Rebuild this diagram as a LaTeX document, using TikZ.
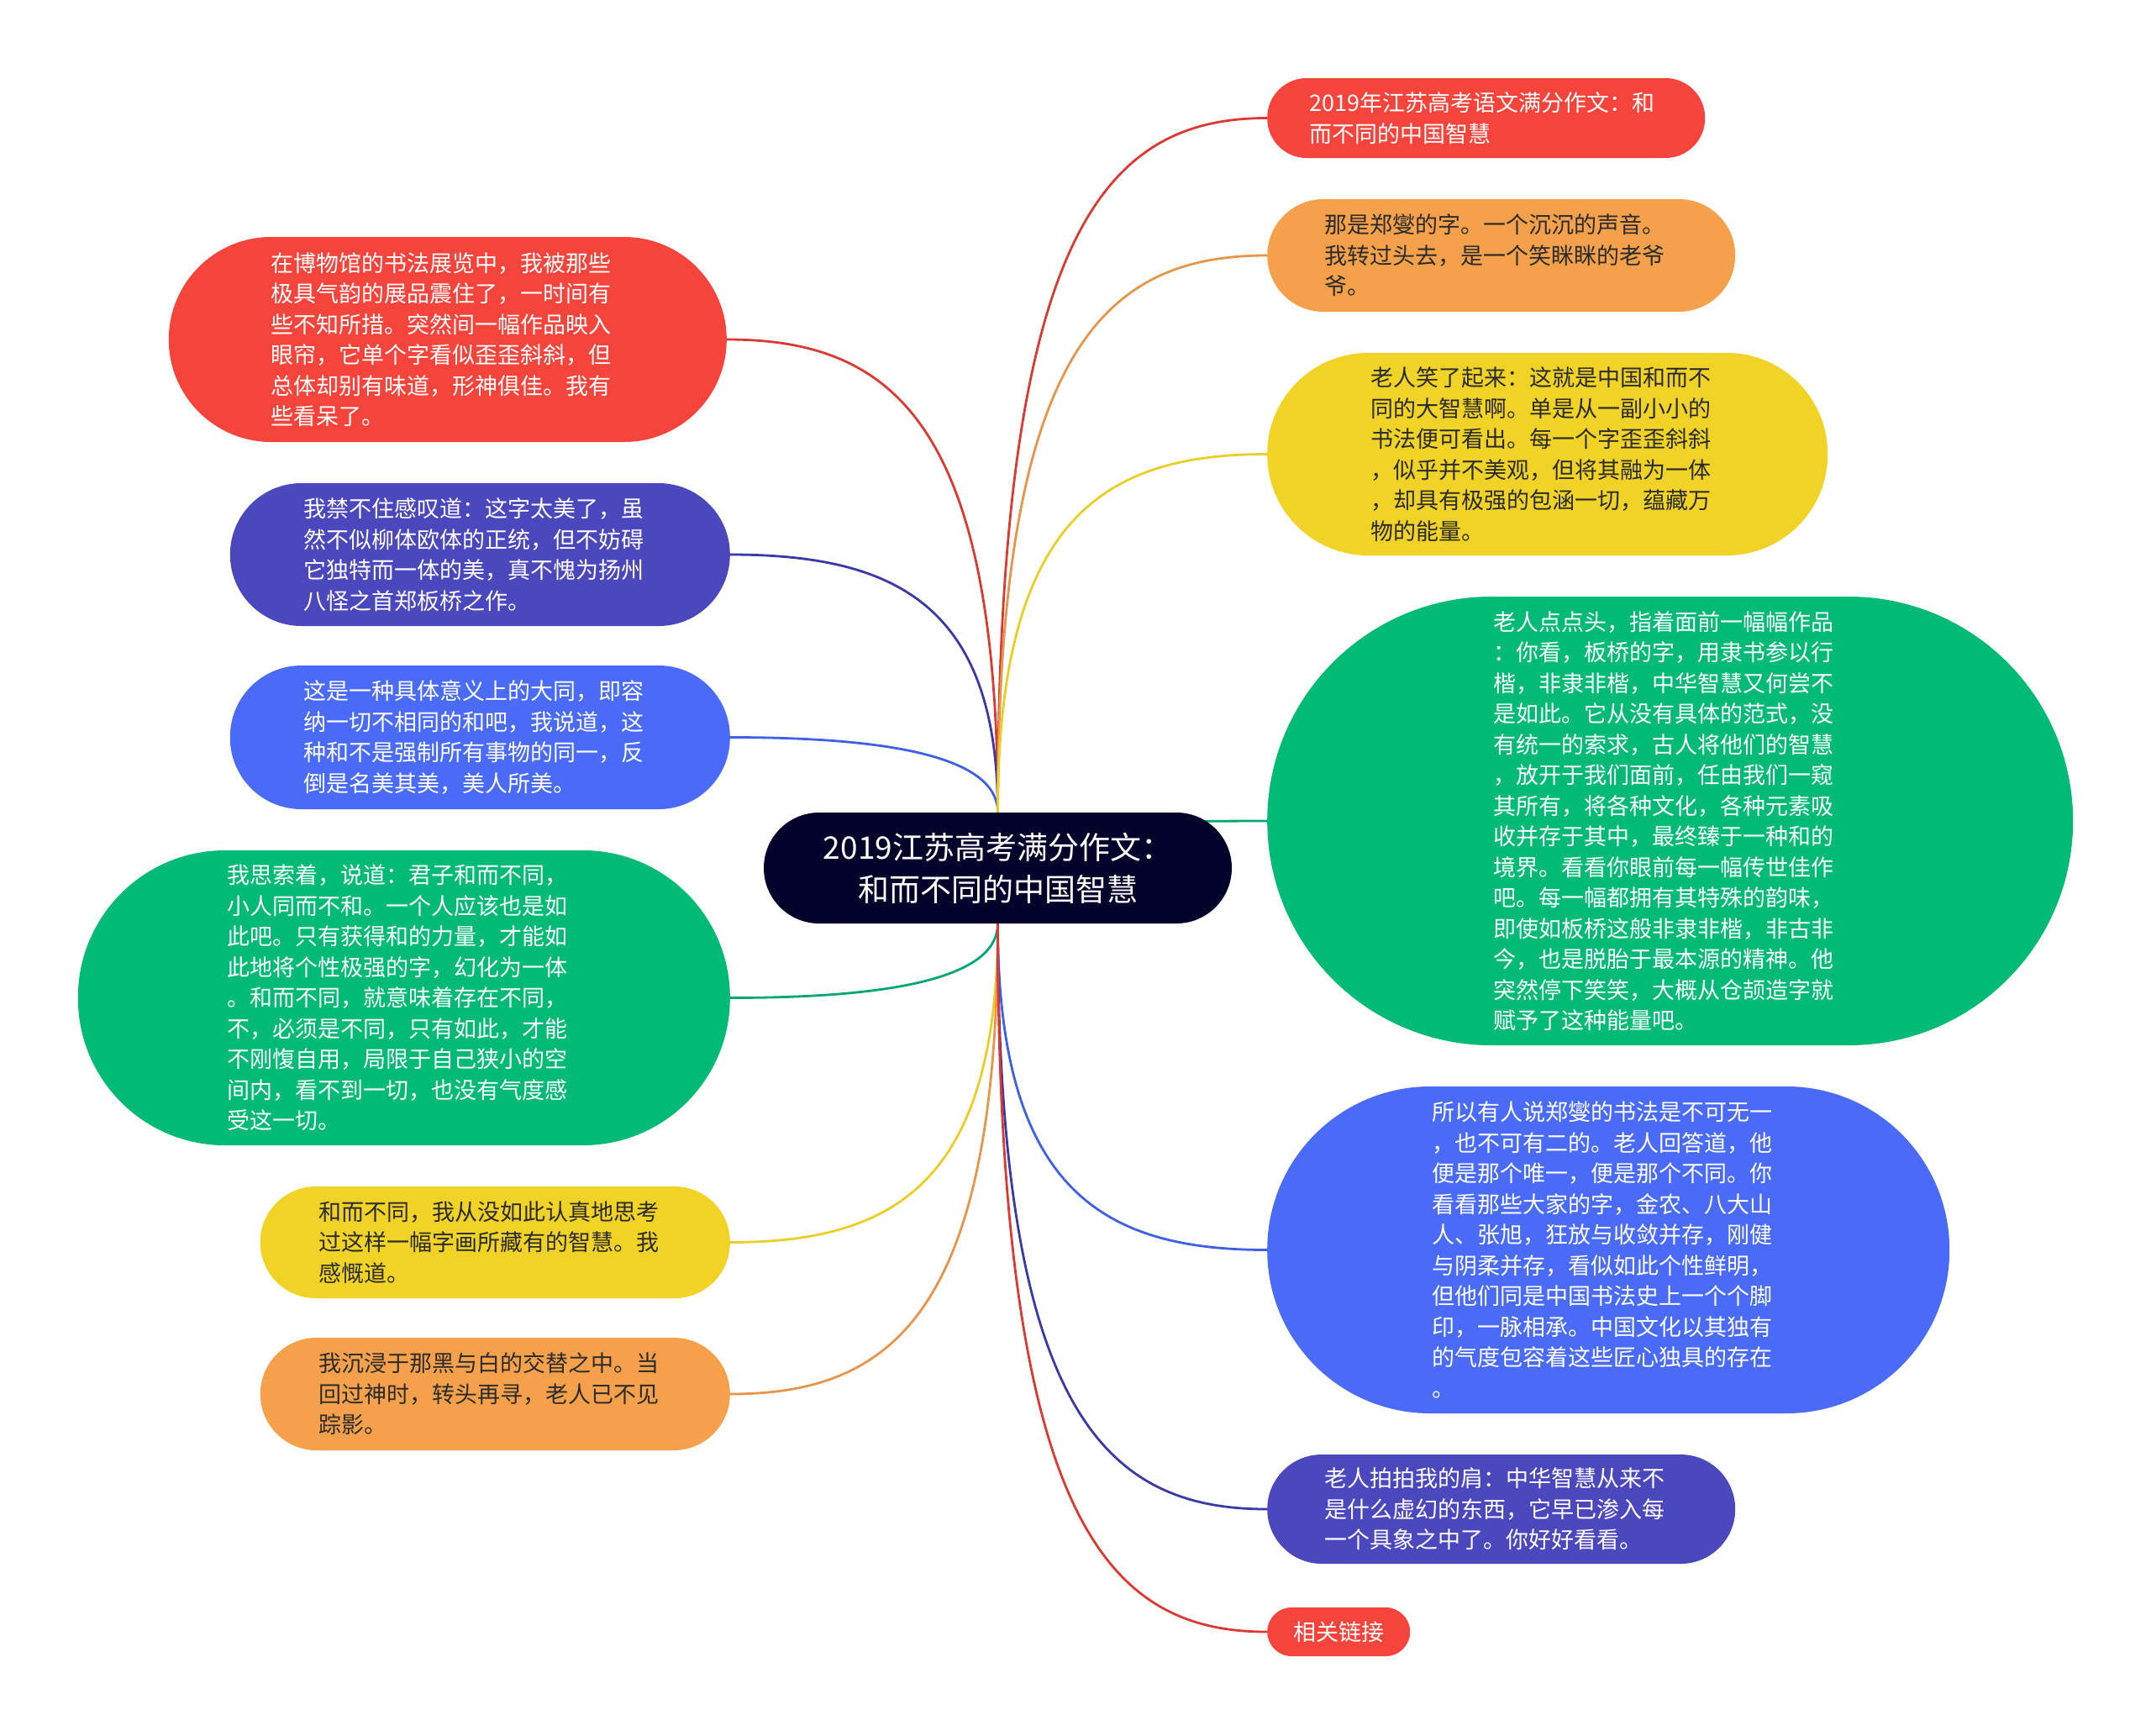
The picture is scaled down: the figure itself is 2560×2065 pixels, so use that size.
\documentclass[tikz,border=0pt]{standalone}
\usepackage{fontspec}
\setmainfont{Noto Sans CJK SC}
\usetikzlibrary{calc,backgrounds}
\pgfdeclarelayer{bottom}
\pgfsetlayers{bottom,background,main}
\definecolor{fRed}{HTML}{F5443C}
\definecolor{lRed}{HTML}{D93A32}
\definecolor{fOrange}{HTML}{F5A14B}
\definecolor{lOrange}{HTML}{E5954C}
\definecolor{fYellow}{HTML}{F0D326}
\definecolor{lYellow}{HTML}{E9CE2A}
\definecolor{fGreen}{HTML}{00BA75}
\definecolor{lGreen}{HTML}{00A86E}
\definecolor{fBlue}{HTML}{4A6BF8}
\definecolor{lBlue}{HTML}{3F60E6}
\definecolor{fPurple}{HTML}{4B48BD}
\definecolor{lPurple}{HTML}{3B39A6}
\definecolor{fNavy}{HTML}{02022A}
\definecolor{txtDark}{HTML}{2B2B2B}
\newcommand{\mmconn}[3]{\draw[conn,#1] (#2) .. controls ($(#2)!0.85!(#2|-#3)$) and ($(#3)!0.6!(#2|-#3)$) .. (#3);}
\tikzset{
  bubble/.style={inner sep=0pt, align=left, font=\fontsize{27pt}{36.5pt}\selectfont},
  para/.style={bubble, text width=420pt},
  conn/.style={line width=2.8pt}
}
\begin{document}
\begin{tikzpicture}[x=1pt,y=-1pt]
\useasboundingbox (0,0) rectangle (2560,2065);
\begin{pgfonlayer}{bottom}
\fill[white] (0,0) rectangle (2560,2065);
\end{pgfonlayer}

% center
\node[bubble, fill=fNavy, text=white, minimum width=557pt, minimum height=132pt, rounded corners=66pt, align=center, font=\fontsize{37pt}{50pt}\selectfont] (C) at (1187.5,1033) {2019江苏高考满分作文：\\和而不同的中国智慧};

% left nodes
\node[para, anchor=east, fill=fRed, text=white, minimum width=664pt, minimum height=244pt, rounded corners=122pt] (L1) at (865,404) {在博物馆的书法展览中，我被那些\\极具气韵的展品震住了，一时间有\\些不知所措。突然间一幅作品映入\\眼帘，它单个字看似歪歪斜斜，但\\总体却别有味道，形神俱佳。我有\\些看呆了。};
\node[para, anchor=east, fill=fPurple, text=white, minimum width=595pt, minimum height=170pt, rounded corners=85pt] (L2) at (869,660) {我禁不住感叹道：这字太美了，虽\\然不似柳体欧体的正统，但不妨碍\\它独特而一体的美，真不愧为扬州\\八怪之首郑板桥之作。};
\node[para, anchor=east, fill=fBlue, text=white, minimum width=595pt, minimum height=171pt, rounded corners=85pt] (L3) at (869,877.5) {这是一种具体意义上的大同，即容\\纳一切不相同的和吧，我说道，这\\种和不是强制所有事物的同一，反\\倒是名美其美，美人所美。};
\node[para, anchor=east, fill=fGreen, text=white, minimum width=776pt, minimum height=351pt, rounded corners=175pt] (L4) at (869,1187.5) {我思索着，说道：君子和而不同，\\小人同而不和。一个人应该也是如\\此吧。只有获得和的力量，才能如\\此地将个性极强的字，幻化为一体\\。和而不同，就意味着存在不同，\\不，必须是不同，只有如此，才能\\不刚愎自用，局限于自己狭小的空\\间内，看不到一切，也没有气度感\\受这一切。};
\node[para, anchor=east, fill=fYellow, text=txtDark, minimum width=559pt, minimum height=133pt, rounded corners=66pt] (L5) at (869,1478.5) {和而不同，我从没如此认真地思考\\过这样一幅字画所藏有的智慧。我\\感慨道。};
\node[para, anchor=east, fill=fOrange, text=txtDark, minimum width=559pt, minimum height=134pt, rounded corners=67pt] (L6) at (869,1659) {我沉浸于那黑与白的交替之中。当\\回过神时，转头再寻，老人已不见\\踪影。};

% right nodes
\node[para, anchor=west, fill=fRed, text=white, minimum width=521pt, minimum height=95pt, rounded corners=47pt] (R1) at (1508,140.5) {2019年江苏高考语文满分作文：和\\而不同的中国智慧};
\node[para, anchor=west, fill=fOrange, text=txtDark, minimum width=557pt, minimum height=134pt, rounded corners=67pt] (R2) at (1508,304) {那是郑燮的字。一个沉沉的声音。\\我转过头去，是一个笑眯眯的老爷\\爷。};
\node[para, anchor=west, fill=fYellow, text=txtDark, minimum width=667pt, minimum height=241pt, rounded corners=120pt] (R3) at (1508,540.5) {老人笑了起来：这就是中国和而不\\同的大智慧啊。单是从一副小小的\\书法便可看出。每一个字歪歪斜斜\\，似乎并不美观，但将其融为一体\\，却具有极强的包涵一切，蕴藏万\\物的能量。};
\node[para, anchor=west, fill=fGreen, text=white, minimum width=959pt, minimum height=534pt, rounded corners=267pt] (R4) at (1508,977) {老人点点头，指着面前一幅幅作品\\：你看，板桥的字，用隶书参以行\\楷，非隶非楷，中华智慧又何尝不\\是如此。它从没有具体的范式，没\\有统一的索求，古人将他们的智慧\\，放开于我们面前，任由我们一窥\\其所有，将各种文化，各种元素吸\\收并存于其中，最终臻于一种和的\\境界。看看你眼前每一幅传世佳作\\吧。每一幅都拥有其特殊的韵味，\\即使如板桥这般非隶非楷，非古非\\今，也是脱胎于最本源的精神。他\\突然停下笑笑，大概从仓颉造字就\\赋予了这种能量吧。};
\node[para, anchor=west, fill=fBlue, text=white, minimum width=812pt, minimum height=389pt, rounded corners=194pt] (R5) at (1508,1487.5) {所以有人说郑燮的书法是不可无一\\，也不可有二的。老人回答道，他\\便是那个唯一，便是那个不同。你\\看看那些大家的字，金农、八大山\\人、张旭，狂放与收敛并存，刚健\\与阴柔并存，看似如此个性鲜明，\\但他们同是中国书法史上一个个脚\\印，一脉相承。中国文化以其独有\\的气度包容着这些匠心独具的存在\\。};
\node[para, anchor=west, fill=fPurple, text=white, minimum width=557pt, minimum height=130pt, rounded corners=65pt] (R6) at (1508,1796) {老人拍拍我的肩：中华智慧从来不\\是什么虚幻的东西，它早已渗入每\\一个具象之中了。你好好看看。};
\node[bubble, anchor=west, fill=fRed, text=white, minimum width=170pt, minimum height=58pt, rounded corners=29pt] (R7) at (1508,1942) {相关链接};

% connectors
\begin{pgfonlayer}{background}
\mmconn{lRed}{C}{L1.east}
\mmconn{lPurple}{C}{L2.east}
\mmconn{lBlue}{C}{L3.east}
\mmconn{lGreen}{C}{L4.east}
\mmconn{lYellow}{C}{L5.east}
\mmconn{lOrange}{C}{L6.east}
\mmconn{lRed}{C}{R1.west}
\mmconn{lOrange}{C}{R2.west}
\mmconn{lYellow}{C}{R3.west}
\mmconn{lGreen}{C}{R4.west}
\mmconn{lBlue}{C}{R5.west}
\mmconn{lPurple}{C}{R6.west}
\mmconn{lRed}{C}{R7.west}
\end{pgfonlayer}
\end{tikzpicture}
\end{document}
